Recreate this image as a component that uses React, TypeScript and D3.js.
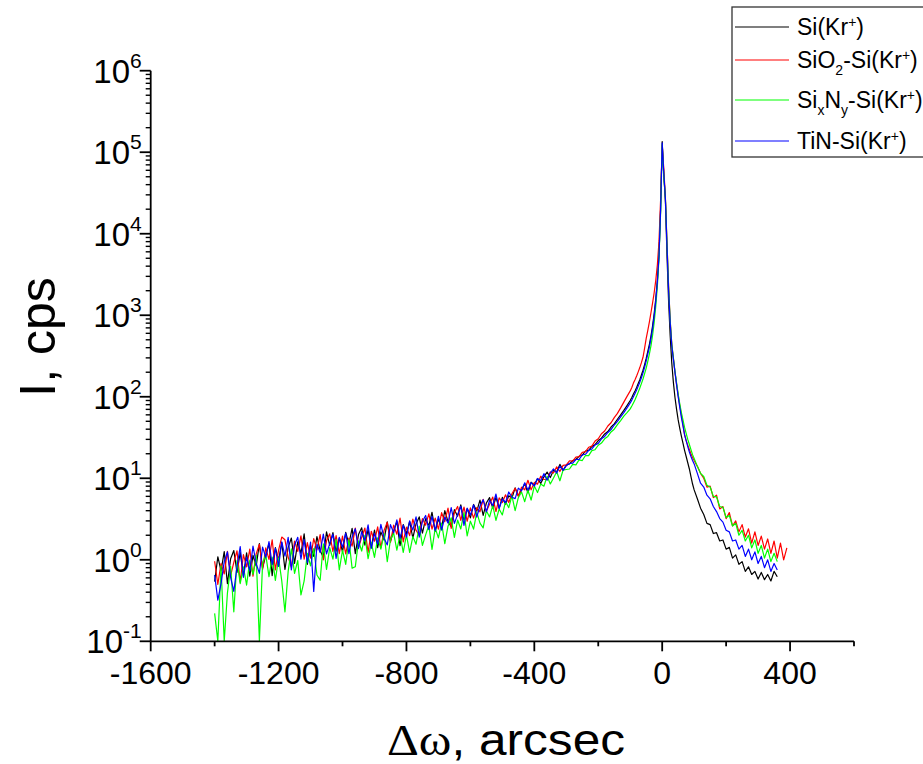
import React from 'react';
import * as d3 from 'd3';

// Δω grid, arcsec
const omega = [
  -1400, -1390, -1380, -1370, -1360, -1350, -1340, -1330, -1320, -1310,
  -1300, -1290, -1280, -1270, -1260, -1250, -1240, -1230, -1220, -1210,
  -1200, -1190, -1180, -1170, -1160, -1150, -1140, -1130, -1120, -1110,
  -1100, -1090, -1080, -1070, -1060, -1050, -1040, -1030, -1020, -1010,
  -1000, -990, -980, -970, -960, -950, -940, -930, -920, -910,
  -900, -890, -880, -870, -860, -850, -840, -830, -820, -810,
  -800, -790, -780, -770, -760, -750, -740, -730, -720, -710,
  -700, -690, -680, -670, -660, -650, -640, -630, -620, -610,
  -600, -590, -580, -570, -560, -550, -540, -530, -520, -510,
  -500, -490, -480, -470, -460, -450, -440, -430, -420, -410,
  -400, -390, -380, -370, -360, -350, -340, -330, -320, -310,
  -300,
  -290, -280, -270, -260, -250, -240, -230, -220, -210, -200,
  -190, -180, -170, -160, -150, -140, -130, -120, -110, -100,
  -95, -90, -85, -80, -75, -70, -65, -60, -55, -50,
  -45, -40, -35, -30, -25, -20, -15, -10, -5,
  0,
  5, 10, 15, 20, 25, 30, 35, 40, 45, 50,
  55, 60, 65, 70, 75, 80, 85, 90, 95,
  100, 110, 120, 130, 140, 150, 160, 170, 180, 190,
  200, 210, 220, 230, 240, 250, 260, 270, 280, 290,
  300, 310, 320, 330, 340, 350, 360, 370, 380, 390,
];

// Si(Kr+) – black
const siKr = [
  0.54, 1.09, 0.73, 1.26, 0.51, 1.03, 1.30, 0.70, 1.23, 0.64,
  1.22, 0.63, 1.13, 0.84, 1.58, 0.79, 1.14, 1.58, 0.64, 1.41,
  0.99, 1.63, 0.76, 1.42, 1.85, 0.90, 1.66, 1.20, 2.08, 0.88,
  1.50, 1.10, 1.92, 1.30, 1.07, 2.20, 1.50, 2.16, 1.28, 1.85,
  1.25, 2.17, 1.57, 2.43, 1.19, 2.04, 2.47, 1.51, 2.35, 1.42,
  2.32, 1.41, 2.20, 1.75, 2.92, 1.68, 2.26, 2.95, 1.49, 2.71,
  2.09, 2.95, 1.85, 2.75, 3.36, 2.13, 3.19, 2.60, 3.83, 2.23,
  3.16, 2.50, 4.01, 2.93, 2.55, 4.12, 3.43, 4.72, 3.09, 4.23,
  3.27, 4.77, 3.94, 5.40, 3.51, 4.97, 5.79, 4.30, 5.82, 4.31,
  5.83, 4.81, 6.09, 5.73, 7.62, 6.10, 7.18, 8.58, 6.63, 8.94,
  8.30, 9.90, 8.65, 10.4, 11.9, 10.2, 12.5, 12.0, 14.8, 12.5,
  14.5,
  15.0, 16.5, 17.0, 18.6, 19.2, 21.5, 22.0, 24.6, 25.8, 29.0,
  31.0, 35.0, 37.5, 42.5, 46.5, 53, 60, 68, 78, 90,
  98, 108, 118, 130, 145, 162, 185, 212, 248, 295,
  360, 440, 560, 740, 1050, 1600, 2700, 5500, 20000,
  135000,
  52000, 26000, 5500, 1500, 560, 260, 150, 98, 70, 52,
  41, 33, 27, 22, 18.5, 15.5, 13, 10.5, 8.5,
  7.2, 5.6, 4.3, 3.6, 2.8, 2.7, 2.1, 2.15, 1.7, 1.75,
  1.35, 1.42, 1.05, 1.15, 0.88, 0.95, 0.72, 0.82, 0.66, 0.72,
  0.58, 0.70, 0.57, 0.66, 0.55, 0.72, 0.62,
];

// SiO2-Si(Kr+) – red
const sio2 = [
  0.96, 0.50, 0.90, 0.67, 1.27, 0.64, 0.93, 1.29, 0.53, 1.16,
  0.82, 1.35, 0.63, 1.18, 1.55, 0.76, 1.40, 1.01, 1.76, 0.75,
  1.31, 1.90, 1.76, 1.08, 0.81, 1.70, 1.27, 1.97, 1.02, 1.62,
  1.05, 1.82, 1.32, 2.04, 1.00, 1.71, 2.08, 1.27, 1.98, 1.19,
  1.95, 1.18, 1.84, 1.47, 2.44, 1.40, 1.88, 2.45, 1.23, 2.24,
  1.69, 2.54, 1.41, 2.29, 2.88, 1.64, 2.66, 2.06, 3.25, 1.66,
  2.51, 1.98, 3.16, 2.30, 1.99, 3.21, 2.66, 3.65, 2.38, 3.25,
  2.38, 3.78, 2.93, 4.30, 2.43, 3.79, 4.51, 3.04, 4.42, 2.97,
  4.33, 3.25, 4.37, 3.87, 5.52, 3.93, 4.81, 5.88, 3.91, 5.74,
  5.04, 6.27, 5.05, 6.47, 7.55, 6.03, 7.77, 7.22, 9.44, 7.22,
  8.90, 8.46, 10.6, 9.70, 9.66, 12.0, 11.6, 13.8, 12.1, 14.4,
  14.6,
  16.4, 16.2, 18.2, 18.4, 20.8, 21.2, 24.0, 24.8, 28.6, 30.5,
  35.2, 38.0, 43.8, 48.0, 55.5, 62.5, 73, 86, 101, 118,
  130, 147, 162, 180, 202, 228, 262, 305, 395, 520,
  650, 830, 1080, 1420, 1900, 2700, 4200, 8000, 26000,
  122000,
  62000, 28000, 7800, 2300, 870, 440, 295, 200, 143, 104,
  78, 60, 46, 34.5, 29, 25.5, 22.5, 20, 18,
  16.5, 14, 11.5, 10, 7.8, 8.0, 5.8, 6.2, 4.2, 4.5,
  3.2, 3.8, 2.6, 3.0, 2.2, 2.7, 1.9, 2.4, 1.6, 2.2,
  1.5, 1.95, 1.35, 1.8, 1.2, 1.7, 1.05, 1.6, 1.0, 1.4,
];

// SixNy-Si(Kr+) – green
const sixny = [
  0.22, 0.10, 0.84, 0.10, 0.39, 0.83, 0.23, 0.98, 0.51, 0.82,
  0.49, 0.99, 0.66, 1.13, 0.10, 0.91, 1.15, 0.62, 1.08, 0.56,
  1.06, 0.55, 0.23, 0.72, 1.36, 0.68, 0.98, 0.37, 0.55, 1.20,
  0.84, 1.37, 0.65, 0.56, 1.57, 0.76, 1.41, 1.02, 1.77, 0.75,
  1.31, 0.88, 1.77, 0.79, 0.82, 1.71, 1.28, 1.99, 1.03, 1.64,
  1.07, 1.86, 1.35, 2.09, 0.95, 1.76, 2.13, 1.31, 2.04, 1.23,
  2.02, 1.23, 1.93, 1.55, 2.59, 1.50, 2.02, 2.65, 1.34, 2.45,
  1.86, 2.81, 1.58, 2.58, 3.27, 1.88, 3.07, 2.39, 3.80, 1.96,
  2.98, 2.38, 3.84, 2.82, 2.46, 4.00, 3.35, 4.64, 3.05, 4.20,
  3.55, 5.19, 4.36, 6.09, 4.01, 5.78, 6.80, 5.16, 7.14, 5.41,
  8.04, 6.69, 8.48, 7.99, 10.6, 8.51, 10.1, 12.0, 9.32, 12.6,
  12.8,
  13.0, 14.8, 14.6, 16.8, 16.5, 19.0, 19.0, 21.8, 22.4, 25.4,
  27.0, 30.5, 32.6, 37.0, 40.0, 45.5, 51, 58, 64, 71,
  77, 84, 92, 102, 114, 128, 145, 165, 192, 225,
  272, 335, 425, 570, 820, 1300, 2300, 5000, 18000,
  123000,
  52000, 27000, 7500, 2200, 850, 440, 300, 205, 148, 108,
  82, 64, 52, 42, 35.5, 30, 26, 22.5, 19.5,
  17.5, 14, 11.5, 10.5, 8.2, 7.8, 6.0, 5.9, 4.5, 4.4,
  3.3, 3.5, 2.6, 2.8, 2.0, 2.3, 1.7, 2.0, 1.4, 1.75,
  1.2, 1.5, 1.05, 1.35, 0.95, 1.2, 0.95,
];

// TiN-Si(Kr+) – blue
const tin = [
  0.65, 0.32, 0.51, 0.95, 1.25, 0.61, 0.41, 0.83, 1.45, 0.61,
  1.08, 0.73, 1.47, 0.90, 0.68, 1.43, 1.07, 1.67, 0.87, 1.38,
  0.83, 1.66, 1.11, 1.89, 0.75, 1.51, 1.89, 1.02, 1.77, 0.92,
  1.65, 0.41, 1.55, 1.23, 2.06, 1.18, 1.58, 2.06, 1.04, 1.88,
  1.42, 2.13, 1.19, 1.91, 2.40, 1.37, 2.21, 1.71, 2.69, 1.38,
  2.11, 1.56, 2.72, 1.84, 1.52, 2.70, 2.14, 3.09, 1.83, 2.66,
  1.89, 3.00, 2.31, 3.37, 1.90, 2.95, 3.50, 2.35, 3.41, 2.28,
  3.42, 2.31, 3.35, 2.82, 4.36, 2.80, 3.58, 4.53, 2.64, 4.30,
  3.53, 4.71, 3.34, 4.57, 5.46, 3.87, 5.37, 4.63, 6.41, 4.24,
  5.57, 5.01, 6.79, 5.86, 5.63, 7.57, 7.00, 8.81, 7.18, 8.86,
  8.00, 9.95, 9.31, 11.4, 9.45, 11.6, 13.0, 11.6, 14.1, 12.5,
  14.3,
  15.2, 15.3, 17.0, 17.1, 19.3, 19.7, 22.0, 22.9, 25.6, 26.8,
  30.5, 32.6, 36.5, 39.6, 45.0, 50, 56.5, 64, 73, 84,
  91, 100, 110, 121, 135, 151, 171, 196, 230, 275,
  335, 410, 520, 690, 980, 1500, 2600, 5300, 19500,
  130000,
  56000, 27000, 7000, 2000, 800, 420, 290, 200, 140, 100,
  74, 56, 44, 34, 29, 24.5, 21, 18.5, 16.5,
  15, 11.5, 8.7, 7.8, 6.2, 5.6, 4.5, 3.9, 3.2, 2.9,
  2.3, 2.2, 1.7, 1.75, 1.35, 1.5, 1.1, 1.35, 1.0, 1.25,
  0.9, 1.1, 0.8, 1.0, 0.72, 0.9, 0.75,
];

const seriesColors = ['#000000', '#ff0000', '#00ff00', '#0000ff'];
const xTickMajor = [-1600, -1200, -800, -400, 0, 400];
const xTickMinor = [-1400, -1000, -600, -200, 200, 600];
const yExponents = [-1, 0, 1, 2, 3, 4, 5, 6];

const FONT = "'Liberation Sans', Arial, sans-serif";

export default function App() {
  const W = 923, H = 764;
  const x = d3.scaleLinear().domain([-1600, 600]).range([150.7, 854]);
  const y = d3.scaleLog().domain([0.1, 1e6]).range([641.3, 70.7]);
  const all = [siKr, sio2, sixny, tin];

  const line = (vals: number[]) =>
    d3.line<number>()
      .x((_, i) => x(omega[i]))
      .y((v) => y(v))(vals) || '';

  const minor: number[] = [];
  for (let k = -1; k < 6; k++) for (let m = 2; m <= 9; m++) minor.push(m * Math.pow(10, k));

  const x0 = x(-1600), yB = y(0.1);

  return (
    <svg width={W} height={H} style={{ position: 'absolute', left: 0, top: 0, background: '#fff' }} fontFamily={FONT}>
      <defs>
        <clipPath id="plot">
          <rect x={x0} y={y(1e6)} width={x(600) - x0} height={yB - y(1e6)} />
        </clipPath>
      </defs>
      <rect width={W} height={H} fill="#fff" />
      <g clipPath="url(#plot)" fill="none" strokeWidth={1.2} strokeLinejoin="round">
        {all.map((s, i) => (
          <path key={i} d={line(s)} stroke={seriesColors[i]} />
        ))}
      </g>
      {/* axes */}
      <g stroke="#000" strokeWidth={1.8} fill="none">
        <line x1={x0} x2={x(600)} y1={yB} y2={yB} />
        <line x1={x0} x2={x0} y1={yB} y2={y(1e6)} />
        {xTickMajor.map((t) => (
          <line key={'xM' + t} x1={x(t)} x2={x(t)} y1={yB} y2={yB + 10} />
        ))}
        {xTickMinor.map((t) => (
          <line key={'xm' + t} x1={x(t)} x2={x(t)} y1={yB} y2={yB + 5} />
        ))}
        {yExponents.map((k) => (
          <line key={'yM' + k} x1={x0 - 11} x2={x0} y1={y(Math.pow(10, k))} y2={y(Math.pow(10, k))} />
        ))}
        {minor.map((v, i) => (
          <line key={'ym' + i} x1={x0 - 5} x2={x0} y1={y(v)} y2={y(v)} strokeWidth={1.4} />
        ))}
      </g>
      <g fill="#000">
        {xTickMajor.map((t) => (
          <text key={'xl' + t} x={x(t)} y={yB + 43} textAnchor="middle" fontSize={32}>{t}</text>
        ))}
        {yExponents.map((k) => (
          <text key={'yl' + k} x={x0 - 9} y={y(Math.pow(10, k)) + 12} textAnchor="end" fontSize={33}>
            10<tspan dy={-15} fontSize={21}>{k}</tspan>
          </text>
        ))}
      </g>
      {/* axis titles */}
      <text x={387} y={755} fontSize={44} fill="#000" textLength={238} lengthAdjust="spacingAndGlyphs">
        <tspan fontFamily="'Liberation Serif', 'Times New Roman', serif">Δω</tspan>, arcsec
      </text>
      <text transform="translate(55,337) rotate(-90)" textAnchor="middle" fontSize={50} fill="#000">I, cps</text>
      {/* legend */}
      <g>
        <rect x={732} y={7} width={205} height={150} fill="#fff" stroke="#333" strokeWidth={1.3} />
        {[27, 60, 100, 141].map((ly, i) => (
          <line key={'lg' + i} x1={735} x2={789} y1={ly} y2={ly} stroke={seriesColors[i]} strokeWidth={1.2} />
        ))}
        <g fontSize={23} fill="#000">
          <text x={797} y={35}>Si(Kr<tspan dy={-8} fontSize={14}>+</tspan><tspan dy={8}>)</tspan></text>
          <text x={797} y={68}>SiO<tspan dy={7} fontSize={14}>2</tspan><tspan dy={-7}>-Si(Kr</tspan><tspan dy={-8} fontSize={14}>+</tspan><tspan dy={8}>)</tspan></text>
          <text x={797} y={108}>Si<tspan dy={7} fontSize={14}>x</tspan><tspan dy={-7}>N</tspan><tspan dy={7} fontSize={14}>y</tspan><tspan dy={-7}>-Si(Kr</tspan><tspan dy={-8} fontSize={14}>+</tspan><tspan dy={8}>)</tspan></text>
          <text x={797} y={149}>TiN-Si(Kr<tspan dy={-8} fontSize={14}>+</tspan><tspan dy={8}>)</tspan></text>
        </g>
      </g>
    </svg>
  );
}
